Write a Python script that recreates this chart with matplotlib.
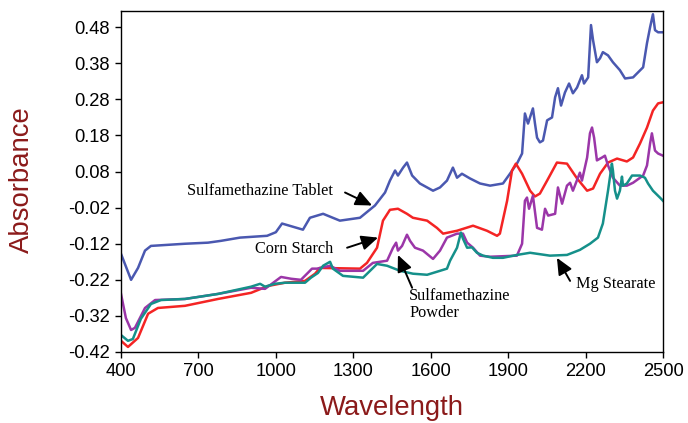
import matplotlib
matplotlib.use("Agg")
import matplotlib.pyplot as plt

# ---- data (wavelength nm, absorbance) ----
tablet_wl = [400, 439, 466, 493, 516, 582, 648, 737, 787, 861, 966, 1000, 1024, 1105, 1132, 1183,
             1248, 1326, 1384, 1423, 1442, 1462, 1473, 1493, 1508, 1528, 1558, 1609, 1636, 1663,
             1686, 1702, 1721, 1752, 1791, 1830, 1880, 1907, 1934, 1954, 1965, 1977, 1996, 2004,
             2012, 2023, 2035, 2051, 2070, 2082, 2093, 2105, 2120, 2136, 2151, 2167, 2186, 2194,
             2210, 2221, 2229, 2244, 2256, 2267, 2287, 2306, 2333, 2353, 2384, 2423, 2438, 2450,
             2461, 2469, 2481, 2500]
tablet_ab = [-0.148, -0.220, -0.187, -0.139, -0.126, -0.123, -0.120, -0.117, -0.112, -0.103, -0.098,
             -0.088, -0.064, -0.081, -0.048, -0.037, -0.056, -0.048, -0.014, 0.022, 0.055, 0.083,
             0.069, 0.091, 0.105, 0.069, 0.047, 0.027, 0.036, 0.055, 0.091, 0.063, 0.074, 0.061,
             0.047, 0.041, 0.047, 0.074, 0.102, 0.130, 0.241, 0.213, 0.255, 0.213, 0.174, 0.161,
             0.166, 0.222, 0.230, 0.286, 0.311, 0.263, 0.299, 0.324, 0.297, 0.313, 0.347, 0.324,
             0.341, 0.486, 0.444, 0.383, 0.394, 0.411, 0.402, 0.383, 0.361, 0.338, 0.341, 0.369,
             0.436, 0.480, 0.516, 0.472, 0.466, 0.466]

starch_wl = [400, 427, 466, 505, 543, 648, 776, 904, 970, 1035, 1113, 1152, 1171, 1326, 1353, 1392,
             1415, 1442, 1473, 1508, 1531, 1586, 1624, 1648, 1702, 1764, 1818, 1857, 1868, 1896,
             1915, 1930, 1954, 1985, 2004, 2023, 2051, 2089, 2128, 2167, 2206, 2229, 2256, 2287,
             2322, 2360, 2384, 2411, 2438, 2461, 2481, 2500]
starch_ab = [-0.389, -0.406, -0.381, -0.314, -0.298, -0.292, -0.273, -0.256, -0.237, -0.228, -0.223,
             -0.203, -0.187, -0.189, -0.173, -0.131, -0.056, -0.026, -0.023, -0.037, -0.048, -0.056,
             -0.076, -0.092, -0.084, -0.070, -0.084, -0.098, -0.092, -0.001, 0.083, 0.102, 0.074,
             0.027, 0.011, 0.019, 0.055, 0.105, 0.102, 0.061, 0.027, 0.033, 0.074, 0.105, 0.116,
             0.108, 0.119, 0.158, 0.202, 0.249, 0.269, 0.272]

powder_wl = [400, 419, 439, 454, 493, 532, 648, 776, 904, 958, 1020, 1059, 1097, 1125, 1140, 1159,
             1210, 1248, 1338, 1376, 1431, 1454, 1466, 1473, 1489, 1508, 1520, 1539, 1570, 1609,
             1636, 1663, 1702, 1725, 1741, 1764, 1791, 1830, 1934, 1954, 1965, 1973, 1981, 1996,
             2012, 2031, 2043, 2055, 2082, 2093, 2109, 2128, 2140, 2151, 2178, 2186, 2206, 2217,
             2225, 2233, 2244, 2264, 2275, 2287, 2306, 2333, 2360, 2384, 2423, 2438, 2450, 2457,
             2469, 2481, 2500]
powder_ab = [-0.259, -0.326, -0.359, -0.353, -0.298, -0.276, -0.273, -0.259, -0.242, -0.245, -0.212,
             -0.217, -0.220, -0.200, -0.189, -0.189, -0.181, -0.195, -0.195, -0.173, -0.167, -0.131,
             -0.117, -0.139, -0.126, -0.095, -0.112, -0.131, -0.139, -0.162, -0.139, -0.103, -0.092,
             -0.092, -0.117, -0.131, -0.153, -0.156, -0.153, -0.120, -0.001, 0.008, -0.023, 0.013,
             -0.076, -0.081, -0.023, -0.042, -0.037, 0.036, -0.009, 0.041, 0.049, 0.027, 0.077,
             0.055, 0.119, 0.186, 0.202, 0.174, 0.111, 0.119, 0.124, 0.097, 0.063, 0.041, 0.041,
             0.049, 0.069, 0.097, 0.158, 0.186, 0.138, 0.130, 0.124]

stearate_wl = [400, 427, 446, 477, 516, 555, 648, 776, 904, 939, 958, 997, 1035, 1113, 1136, 1163,
               1183, 1210, 1221, 1260, 1338, 1392, 1431, 1481, 1531, 1586, 1636, 1663, 1675, 1702,
               1717, 1725, 1741, 1760, 1779, 1803, 1841, 1880, 1934, 1985, 2062, 2128, 2178, 2217,
               2248, 2267, 2287, 2302, 2306, 2314, 2322, 2333, 2341, 2345, 2360, 2380, 2411, 2430,
               2442, 2461, 2488, 2500]
stearate_ab = [-0.373, -0.389, -0.384, -0.328, -0.287, -0.276, -0.273, -0.259, -0.239, -0.231, -0.239,
               -0.231, -0.228, -0.228, -0.214, -0.201, -0.181, -0.170, -0.189, -0.209, -0.214, -0.176,
               -0.181, -0.195, -0.203, -0.206, -0.195, -0.189, -0.167, -0.131, -0.089, -0.106, -0.131,
               -0.130, -0.145, -0.153, -0.159, -0.159, -0.151, -0.145, -0.153, -0.151, -0.137, -0.120,
               -0.103, -0.064, 0.027, 0.102, 0.083, 0.027, 0.005, 0.027, 0.066, 0.041, 0.047, 0.069,
               0.069, 0.063, 0.047, 0.027, 0.008, -0.001]

x_ticks = [400, 700, 1000, 1300, 1600, 1900, 2200, 2500]
y_ticks = [-0.42, -0.32, -0.22, -0.12, -0.02, 0.08, 0.18, 0.28, 0.38, 0.48]

# ---- figure ----
fig = plt.figure(figsize=(6.88, 4.23), dpi=100)
ax = fig.add_axes([121/688, 1 - 352/423, (663 - 121)/688, (352 - 11)/423])

lw = 1.8
ax.plot(tablet_wl, tablet_ab, color="#4a58b0", lw=lw)
ax.plot(starch_wl, starch_ab, color="#f42424", lw=lw)
ax.plot(powder_wl, powder_ab, color="#9b36a8", lw=lw)
ax.plot(stearate_wl, stearate_ab, color="#15908a", lw=lw)

ax.set_xlim(400, 2500)
ax.set_ylim(-0.42, 0.525)
ax.set_xticks(x_ticks)
ax.set_xticklabels([str(v) for v in x_ticks])
ax.set_yticks(y_ticks)
ax.set_yticklabels(["%.2f" % v for v in y_ticks])

sans = ["Liberation Sans", "DejaVu Sans"]
for lab in ax.get_xticklabels() + ax.get_yticklabels():
    lab.set_fontfamily(sans)
    lab.set_fontsize(13.2)
ax.tick_params(direction="out", length=4, width=1, colors="black", pad=4)
for s in ax.spines.values():
    s.set_linewidth(1.0)

label_color = "#8b1a1a"
fig.text(392/688, 1 - 408/423, "Wavelength", ha="center", va="center", color=label_color,
         fontsize=19.8, family=sans)
fig.text(22/688, 1 - 180/423, "Absorbance", ha="center", va="center", rotation=90,
         color=label_color, fontsize=19.8, family=sans)

serif = ["Liberation Serif", "DejaVu Serif"]
arrow = dict(arrowstyle="-|>,head_length=1.0,head_width=0.45", color="black", lw=1.4,
             shrinkA=0, shrinkB=0)
fs = 11.7
ax.annotate("", xy=(1373, -0.014), xytext=(1268, 0.022), arrowprops=arrow)
ax.text(939, 0.027, "Sulfamethazine Tablet", ha="center", va="center", fontsize=fs, family=serif)

ax.annotate("", xy=(1396, -0.103), xytext=(1276, -0.131), arrowprops=arrow)
ax.text(1070, -0.134, "Corn Starch", ha="center", va="center", fontsize=fs, family=serif)

ax.annotate("", xy=(1473, -0.151), xytext=(1528, -0.242), arrowprops=arrow)
ax.text(1516, -0.289, "Sulfamethazine\nPowder", ha="left", va="center", fontsize=fs,
        family=serif, linespacing=1.1)

ax.annotate("", xy=(2089, -0.159), xytext=(2140, -0.223), arrowprops=arrow)
ax.text(2163, -0.231, "Mg Stearate", ha="left", va="center", fontsize=fs, family=serif)

fig.savefig("out.png", dpi=100)
